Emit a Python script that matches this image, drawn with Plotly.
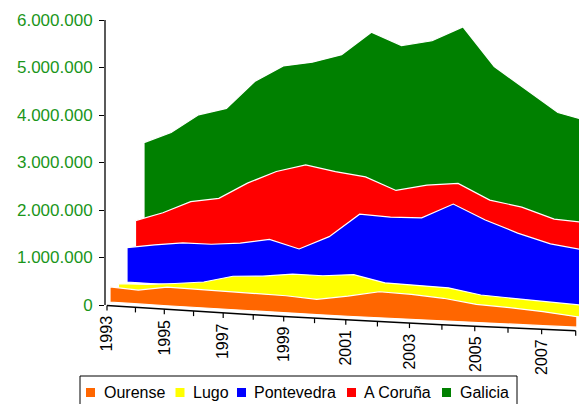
import plotly.graph_objects as go

# ---- data ----
years = list(range(1993, 2009))
tick_years = [1993, 1995, 1997, 1999, 2001, 2003, 2005, 2007]
series_names = ["Ourense", "Lugo", "Pontevedra", "A Coruña", "Galicia"]
series_colors = ["#FF6600", "#FFFF00", "#0000FF", "#FF0000", "#008000"]
ourense = [320000, 290000, 390000, 385000, 370000, 360000, 360000, 320000,
           425000, 550000, 530000, 480000, 385000, 350000, 295000, 220000]
lugo = [180000, 200000, 260000, 330000, 490000, 530000, 610000, 610000,
        670000, 530000, 510000, 490000, 370000, 330000, 280000, 250000]
pontevedra = [740000, 840000, 920000, 930000, 990000, 1110000, 940000, 1240000,
              1760000, 1730000, 1750000, 2080000, 1770000, 1520000, 1320000, 1220000]
coruna = [1120000, 1330000, 1610000, 1720000, 2090000, 2380000, 2560000, 2450000,
          2370000, 2110000, 2260000, 2330000, 2000000, 1880000, 1650000, 1600000]
galicia = [2630000, 2890000, 3320000, 3500000, 4130000, 4510000, 4630000, 4830000,
           5360000, 5100000, 5240000, 5580000, 4740000, 4270000, 3790000, 3620000]
series_values = [ourense, lugo, pontevedra, coruna, galicia]
y_ticks = [0, 1000000, 2000000, 3000000, 4000000, 5000000, 6000000]

# ---- layout geometry ----
W, H = 579, 404
ML, MR, MT, MB = 105, 0, 10, 59
PX_YEAR = 28.14          # pixels per x unit
PX_VAL = 47.5 / 1e6      # pixels per value unit
Y0PX = 305               # pixel row of value 0 on the value axis
X0PX = 107               # pixel column of the first year on the category axis
plot_w = W - ML - MR
plot_h = H - MT - MB
x_range = [years[0] + (ML - X0PX) / PX_YEAR, years[0] + (W - MR - X0PX) / PX_YEAR]
y_range = [(Y0PX - (H - MB)) / PX_VAL, (Y0PX - MT) / PX_VAL]


def proj(u, v, k):
    """oblique 3D projection of (year index u, value v, depth row k) to axis units"""
    s = 1 - 0.011 * k
    fx = 28.14 * u + 0.199 * u * u
    gy = 1.9 * u - 0.015 * u * u
    xpx = 110 + 8.5 * k + s * fx
    ypx = 302 - 10 * k + s * gy - s * v * PX_VAL
    return years[0] + (xpx - X0PX) / PX_YEAR, (Y0PX - ypx) / PX_VAL


def px_to_paper(xp, yp):
    return (xp - ML) / plot_w, (H - MB - yp) / plot_h


fig = go.Figure()

# ribbons, back to front
for k in reversed(range(len(series_names))):
    vals = series_values[k]
    top = [proj(u, v, k) for u, v in enumerate(vals)]
    base = [proj(u, 0, k) for u in range(len(vals))][::-1]
    pts = top + base + [top[0]]
    fig.add_trace(go.Scatter(
        x=[p[0] for p in pts], y=[p[1] for p in pts],
        mode="lines", fill="toself", fillcolor=series_colors[k],
        line=dict(color="white", width=1.2), hoverinfo="skip",
        name=series_names[k], showlegend=False))

# category axis (sloping floor edge)
AK = -0.353
axis_pts = [proj(u, 0, AK) for u in range(len(years))]
fig.add_trace(go.Scatter(x=[p[0] for p in axis_pts], y=[p[1] for p in axis_pts],
                         mode="lines", line=dict(color="black", width=1.5),
                         hoverinfo="skip", showlegend=False))
tx, ty = [], []
for x, y in axis_pts:
    tx += [x, x, None]
    ty += [y, y - 5 / PX_VAL, None]
fig.add_trace(go.Scatter(x=tx, y=ty, mode="lines", line=dict(color="black", width=1.2),
                         hoverinfo="skip", showlegend=False))

annotations = []
for yr in tick_years:
    x, y = axis_pts[years.index(yr)]
    annotations.append(dict(x=x, y=y - 8 / PX_VAL, xref="x", yref="y", text=str(yr),
                            textangle=-90, showarrow=False, xanchor="center", yanchor="top",
                            font=dict(size=16, color="black")))

# value axis line
shapes = [dict(type="line", xref="paper", yref="y", x0=0, x1=0, y0=0, y1=y_ticks[-1],
               line=dict(color="black", width=1.3))]

# manual legend
bx0, by0 = px_to_paper(80, 376)
bx1, by1 = px_to_paper(517, 412)
shapes.append(dict(type="rect", xref="paper", yref="paper", x0=bx0, x1=bx1, y0=by0, y1=by1,
                   line=dict(color="black", width=1), fillcolor="white", layer="above"))
sq_x = [90.5, 180, 241.5, 351.5, 446.5]
txt_x = [102, 191, 252, 362, 458]
for k, name in enumerate(series_names):
    a0, b0 = px_to_paper(sq_x[k] - 4.5, 388)
    a1, b1 = px_to_paper(sq_x[k] + 4.5, 397)
    shapes.append(dict(type="rect", xref="paper", yref="paper", x0=a0, x1=a1, y0=b0, y1=b1,
                       line=dict(width=0), fillcolor=series_colors[k], layer="above"))
    tx0, ty0 = px_to_paper(txt_x[k], 392)
    annotations.append(dict(x=tx0, y=ty0, xref="paper", yref="paper", text=name,
                            showarrow=False, xanchor="left", yanchor="middle",
                            font=dict(size=16, color="black")))

fig.update_layout(
    width=W, height=H, margin=dict(l=ML, r=MR, t=MT, b=MB, autoexpand=False),
    paper_bgcolor="white", plot_bgcolor="white",
    font=dict(family="Liberation Sans, Arial, sans-serif"),
    separators=",.",
    xaxis=dict(range=x_range, visible=False, fixedrange=True, automargin=False),
    yaxis=dict(range=y_range, tickvals=y_ticks, tickformat=",d", showgrid=False,
               zeroline=False, showline=False, ticks="outside", ticklen=5,
               tickcolor="black", tickwidth=1.2, automargin=False, ticklabelstandoff=3,
               tickfont=dict(size=17, color="#1a961a"), fixedrange=True),
    shapes=shapes, annotations=annotations, showlegend=False,
)

fig.write_html("out.html", config={"displayModeBar": False},
               post_script="document.body.style.margin='0px';document.body.style.overflow='hidden';")
